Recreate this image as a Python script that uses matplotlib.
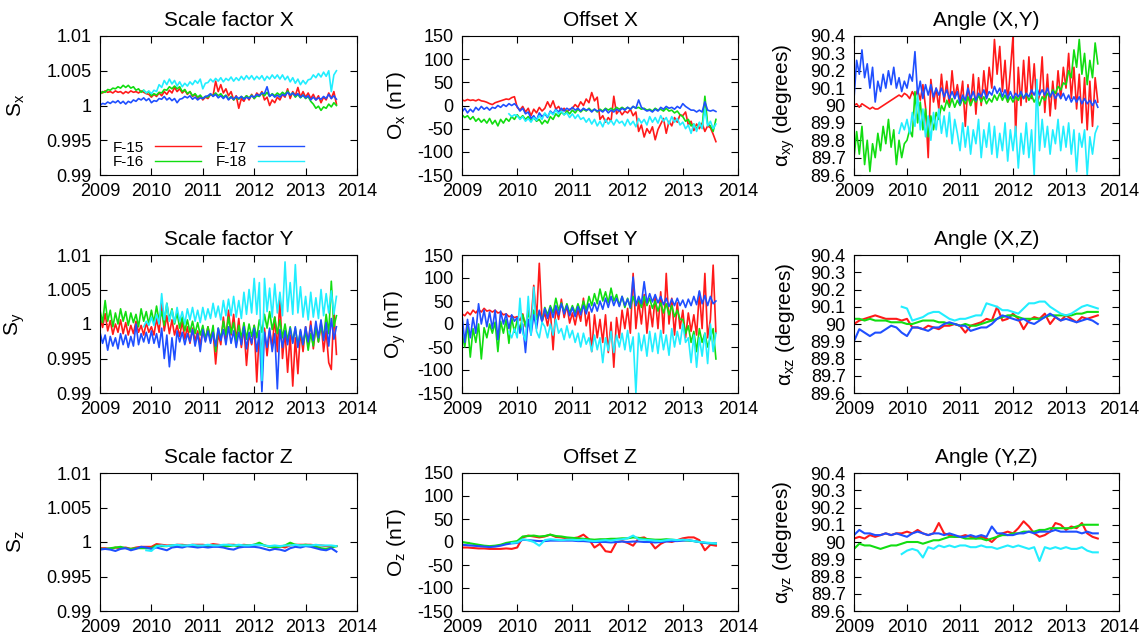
# Calibration parameters of the DMSP F-15..F-18 magnetometers, 2009-2013.
# Nine panels: scale factors, offsets and non-orthogonality angles.

import numpy as np
import matplotlib.pyplot as plt
from matplotlib.ticker import FuncFormatter

plt.rcParams["font.family"] = ["Liberation Sans", "DejaVu Sans"]
plt.rcParams["mathtext.fontset"] = "custom"
plt.rcParams["mathtext.rm"] = "Liberation Sans"
plt.rcParams["mathtext.default"] = "regular"

satellites = ["F-15", "F-16", "F-17", "F-18"]
colors = ["#ff1a1a", "#11dd11", "#1f4fff", "#22eeff"]

# sample times (decimal year); F-18 starts late 2009
t_fine = np.linspace(2009.0, 2013.6, 93)
t_fine_f18 = np.linspace(2009.85, 2013.6, 76)
t_coarse = np.linspace(2009.0, 2013.6, 47)
t_coarse_f18 = np.linspace(2009.9, 2013.6, 38)

# ---- Scale factor X ----
sx_f15 = [1.0020, 1.0018, 1.0021, 1.0019, 1.0020, 1.0018, 1.0021, 1.0019, 1.0020, 1.0017,
          1.0020, 1.0018, 1.0021, 1.0019, 1.0020, 1.0018, 1.0021, 1.0019, 1.0017, 1.0016,
          1.0012, 1.0016, 1.0013, 1.0018, 1.0014, 1.0020, 1.0016, 1.0022, 1.0018, 1.0026,
          1.0020, 1.0024, 1.0018, 1.0022, 1.0016, 1.0020, 1.0013, 1.0016, 1.0010, 1.0014,
          1.0008, 1.0012, 1.0010, 1.0016, 1.0014, 1.0035, 1.0020, 1.0030, 1.0018, 1.0024,
          1.0014, 1.0020, 1.0008, 1.0014, 0.9996, 1.0010, 1.0006, 1.0014, 1.0008, 1.0016,
          1.0010, 1.0018, 1.0014, 1.0020, 1.0008, 1.0012, 1.0000, 1.0008, 1.0004, 1.0012,
          1.0008, 1.0016, 1.0012, 1.0024, 1.0010, 1.0020, 1.0014, 1.0026, 1.0012, 1.0020,
          1.0012, 1.0018, 1.0010, 1.0016, 1.0008, 1.0014, 1.0004, 1.0012, 1.0008, 1.0018,
          1.0010, 1.0020, 1.0002]
sx_f16 = [1.0016, 1.0020, 1.0019, 1.0023, 1.0022, 1.0025, 1.0024, 1.0027, 1.0025, 1.0029,
          1.0026, 1.0029, 1.0025, 1.0027, 1.0022, 1.0024, 1.0019, 1.0022, 1.0018, 1.0020,
          1.0014, 1.0017, 1.0015, 1.0019, 1.0018, 1.0023, 1.0022, 1.0027, 1.0024, 1.0028,
          1.0024, 1.0027, 1.0020, 1.0023, 1.0017, 1.0020, 1.0014, 1.0017, 1.0012, 1.0015,
          1.0010, 1.0013, 1.0012, 1.0016, 1.0014, 1.0018, 1.0014, 1.0017, 1.0012, 1.0015,
          1.0009, 1.0013, 1.0008, 1.0012, 1.0009, 1.0013, 1.0010, 1.0014, 1.0011, 1.0015,
          1.0010, 1.0014, 1.0013, 1.0018, 1.0014, 1.0019, 1.0013, 1.0017, 1.0014, 1.0018,
          1.0015, 1.0019, 1.0016, 1.0021, 1.0015, 1.0018, 1.0012, 1.0016, 1.0011, 1.0015,
          1.0010, 1.0013, 1.0006, 1.0002, 0.9996, 0.9999, 0.9993, 0.9998, 0.9996, 1.0002,
          0.9998, 1.0004, 1.0000]
sx_f17 = [1.0000, 1.0003, 1.0002, 1.0005, 1.0003, 1.0006, 1.0004, 1.0007, 1.0003, 1.0006,
          1.0002, 1.0006, 1.0004, 1.0008, 1.0006, 1.0010, 1.0008, 1.0011, 1.0007, 1.0010,
          1.0004, 1.0007, 1.0006, 1.0010, 1.0009, 1.0013, 1.0008, 1.0011, 1.0007, 1.0010,
          1.0004, 1.0009, 1.0010, 1.0013, 1.0011, 1.0014, 1.0009, 1.0012, 1.0008, 1.0011,
          1.0010, 1.0013, 1.0014, 1.0017, 1.0013, 1.0016, 1.0011, 1.0014, 1.0010, 1.0014,
          1.0008, 1.0012, 1.0009, 1.0013, 1.0010, 1.0013, 1.0009, 1.0012, 1.0010, 1.0014,
          1.0012, 1.0016, 1.0014, 1.0018, 1.0017, 1.0027, 1.0013, 1.0016, 1.0012, 1.0015,
          1.0012, 1.0016, 1.0014, 1.0019, 1.0015, 1.0018, 1.0014, 1.0017, 1.0012, 1.0015,
          1.0011, 1.0014, 1.0008, 1.0012, 1.0008, 1.0011, 1.0009, 1.0013, 1.0010, 1.0016,
          1.0010, 1.0014, 1.0009]
sx_f18 = [1.0022, 1.0018, 1.0021,
          1.0017, 1.0022, 1.0020, 1.0030, 1.0026, 1.0036, 1.0030, 1.0038, 1.0031, 1.0036,
          1.0028, 1.0034, 1.0027, 1.0032, 1.0028, 1.0034, 1.0030, 1.0036, 1.0032, 1.0038,
          1.0024, 1.0032, 1.0033, 1.0038, 1.0034, 1.0039, 1.0035, 1.0040, 1.0034, 1.0039,
          1.0036, 1.0041, 1.0035, 1.0040, 1.0036, 1.0042, 1.0037, 1.0043, 1.0038, 1.0043,
          1.0037, 1.0042, 1.0038, 1.0043, 1.0036, 1.0042, 1.0038, 1.0044, 1.0039, 1.0044,
          1.0038, 1.0044, 1.0037, 1.0042, 1.0034, 1.0040, 1.0032, 1.0038, 1.0030, 1.0036,
          1.0031, 1.0037, 1.0038, 1.0044, 1.0040, 1.0046, 1.0041, 1.0048, 1.0042, 1.0050,
          1.0020, 1.0044, 1.0050]

# ---- Offset X (nT) ----
ox_f15 = [12, 10, 13, 11, 12, 10, 13, 10, 9, 7,
          4, 2, 6, 8, 10, 12, 14, 13, 17, 19,
          -4, -10, -2, -14, -6, -22, -8, -16, -4, -12,
          -6, 8, -4, 10, -8, -2, -12, -6, -14, -8,
          -6, 2, -4, 8, 0, 14, 6, 28, 10, 18,
          -30, -22, -36, -26, -34, 20, -18, -10, -20, -12,
          -16, -8, -22, -14, -56, -42, -68, -50, -60, -46,
          -74, -52, -40, -28, -60, -34, -44, -26, -36, -20,
          -22, -14, -42, -34, -54, -40, -50, -38, -56, -44,
          -48, -62, -78]
ox_f16 = [-20, -26, -22, -30, -24, -34, -28, -36, -30, -38,
          -28, -40, -32, -44, -30, -38, -28, -34, -24, -30,
          -20, -28, -22, -30, -24, -32, -26, -34, -30, -40,
          -32, -38, -24, -30, -18, -24, -14, -20, -12, -18,
          -10, -16, -8, -14, -8, -12, -6, -12, -8, -14,
          -8, -12, -6, -10, -6, -10, -4, -8, -4, -8,
          -4, -8, -2, -6, -4, -8, -6, -10, -8, -12,
          -6, -10, -8, -12, -6, -12, -10, -16, -12, -20,
          -24, -34, -30, -44, -40, -52, -38, -48, 20, -40,
          -44, -56, -30]
ox_f17 = [-14, -6, -16, -8, -14, -4, -10, -2, -8, -4,
          -10, -4, -6, 0, -4, 2, -2, 4, 0, 4,
          -2, -12, -6, -18, -14, -28, -22, -32, -16, -24,
          -18, -26, -12, -18, -8, -14, -6, -12, -6, -10,
          -4, -10, -6, -12, -6, -10, -8, -14, -8, -12,
          -10, -14, -8, -16, -10, -14, -8, -12, -6, -10,
          -4, -8, -2, -6, 12, -4, -8, -12, -10, -14,
          -8, -12, -4, -8, -2, -6, -4, -8, -2, -6,
          4, -2, -6, -10, -10, -14, -10, -14, 8, -10,
          -12, -10, -13]
ox_f18 = [-18, -24, -20,
          -22, -30, -24, -34, -28, -36, -26, -32, -22, -30,
          -16, -24, -14, -20, -10, -18, -12, -20, -16, -26,
          -18, -28, -20, -30, -26, -36, -28, -40, -30, -44,
          -34, -46, -30, -40, -32, -42, -30, -38, -34, -44,
          -30, -42, -34, -46, -28, -38, -30, -42, -24, -36,
          -26, -38, -22, -34, -26, -40, -24, -36, -28, -42,
          -36, -50, -42, -60, -40, -56, -36, -50, -8, -44,
          -34, -50, -40]

# ---- Angle (X,Y) (degrees) ----
axy_f15 = [90.00, 90.01, 89.99, 90.01, 90.00, 89.99, 89.98, 89.99, 89.98, 89.98,
           89.99, 90.00, 90.01, 90.02, 90.03, 90.04, 90.05, 90.06, 90.05, 90.07,
           90.06, 90.04, 90.08, 90.05, 90.09, 90.03, 90.12, 89.99, 89.70, 90.15,
           90.02, 90.10, 89.98, 90.18, 90.02, 90.14, 90.00, 90.20, 90.04, 90.12,
           90.02, 90.14, 89.88, 90.12, 90.00, 90.18, 89.95, 90.16, 90.00, 90.20,
           90.04, 90.22, 90.10, 90.38, 90.18, 90.34, 90.08, 90.26, 90.02, 90.20,
           90.40, 89.83, 90.22, 90.00, 90.26, 90.02, 90.28, 90.04, 90.24, 90.00,
           90.06, 90.28, 89.96, 90.18, 89.94, 90.14, 89.98, 90.20, 90.04, 90.22,
           90.10, 90.30, 90.04, 90.22, 89.98, 90.18, 89.90, 90.16, 89.86, 90.14,
           89.88, 90.16, 90.02]
axy_f16 = [89.70, 89.85, 89.72, 89.88, 89.66, 89.80, 89.62, 89.78, 89.70, 89.84,
           89.74, 89.88, 89.78, 89.92, 89.76, 89.86, 89.66, 89.80, 89.70, 89.78,
           89.80, 89.86, 89.82, 90.08, 89.90, 90.02, 89.86, 89.98, 89.82, 89.94,
           89.86, 89.96, 89.92, 90.00, 89.97, 90.03, 89.99, 90.04, 89.99, 90.03,
           90.00, 90.04, 90.01, 90.05, 90.00, 90.04, 90.02, 90.06, 90.02, 90.05,
           90.01, 90.04, 90.02, 90.06, 90.03, 90.07, 90.03, 90.06, 90.02, 90.05,
           90.02, 90.05, 90.03, 90.07, 90.04, 90.07, 90.03, 90.06, 90.02, 90.05,
           90.00, 90.05, 90.03, 90.07, 90.05, 90.09, 90.07, 90.11, 90.09, 90.13,
           90.12, 90.20, 90.16, 90.32, 90.22, 90.38, 90.18, 90.30, 90.12, 90.26,
           90.16, 90.36, 90.24]
axy_f17 = [90.04, 90.26, 90.18, 90.32, 90.16, 90.24, 90.10, 90.22, 90.02, 90.14,
           90.08, 90.18, 90.10, 90.20, 90.12, 90.22, 90.10, 90.16, 90.08, 90.14,
           90.10, 90.18, 90.14, 90.31, 90.06, 90.14, 90.04, 90.12, 90.06, 90.12,
           90.05, 90.10, 90.06, 90.10, 90.05, 90.09, 90.04, 90.08, 90.04, 90.08,
           90.01, 90.06, 90.03, 90.10, 90.04, 90.08, 90.03, 90.07, 90.05, 90.09,
           90.04, 90.08, 90.06, 90.11, 90.07, 90.10, 90.05, 90.09, 90.04, 90.08,
           90.04, 90.07, 90.05, 90.08, 90.04, 90.07, 90.05, 90.09, 90.06, 90.10,
           90.06, 90.09, 90.06, 90.10, 90.05, 90.08, 90.04, 90.07, 90.04, 90.07,
           90.03, 90.06, 90.02, 90.05, 90.02, 90.05, 90.01, 90.04, 90.01, 90.03,
           90.00, 90.03, 89.99]
axy_f18 = [89.84, 89.90, 89.86,
           89.92, 89.84, 89.96, 89.88, 90.06, 89.86, 89.98, 89.82, 89.94, 89.80,
           89.96, 89.86, 89.98, 89.84, 89.94, 89.82, 89.96, 89.78, 89.92, 89.84,
           89.74, 89.90, 89.76, 89.88, 89.72, 89.86, 89.78, 89.92, 89.70, 89.86,
           89.76, 89.90, 89.72, 89.88, 89.70, 89.84, 89.74, 89.90, 89.68, 89.86,
           89.74, 89.88, 89.64, 89.84, 89.72, 89.90, 89.70, 89.86, 89.60, 90.15,
           89.74, 89.92, 89.76, 89.88, 89.72, 89.86, 89.78, 89.92, 89.74, 89.88,
           89.76, 89.90, 89.72, 89.86, 89.62, 89.84, 89.76, 89.86, 89.60, 89.82,
           89.72, 89.84, 89.88]

# ---- Scale factor Y ----
sy_f15 = [1.0010, 0.9995, 1.0015, 0.9990, 1.0005, 0.9985, 1.0000, 0.9988, 1.0006, 0.9986,
          1.0002, 0.9984, 0.9998, 0.9986, 1.0004, 0.9988, 0.9998, 0.9984, 1.0002, 0.9988,
          0.9996, 0.9984, 1.0008, 0.9988, 1.0030, 0.9990, 1.0012, 0.9986, 1.0006, 0.9984,
          0.9998, 0.9982, 1.0004, 0.9978, 0.9996, 0.9972, 0.9994, 0.9976, 0.9990, 0.9970,
          0.9992, 0.9976, 0.9996, 0.9980, 0.9990, 0.9942, 0.9986, 0.9970, 1.0010, 0.9978,
          1.0020, 0.9984, 1.0014, 0.9976, 1.0008, 0.9966, 0.9996, 0.9940, 0.9986, 0.9970,
          0.9998, 0.9916, 0.9990, 0.9962, 0.9994, 0.9954, 0.9990, 0.9966, 1.0010, 0.9960,
          1.0038, 0.9950, 0.9990, 0.9930, 0.9984, 0.9910, 0.9980, 0.9928, 0.9990, 0.9960,
          0.9996, 0.9970, 1.0004, 0.9964, 0.9998, 0.9974, 1.0004, 0.9960, 0.9990, 0.9944,
          0.9934, 1.0020, 0.9956]
sy_f16 = [1.0020, 1.0002, 1.0034, 1.0004, 1.0020, 0.9996, 1.0016, 1.0000, 1.0022, 1.0004,
          1.0018, 0.9998, 1.0016, 1.0002, 1.0014, 0.9996, 1.0022, 1.0004, 1.0018, 1.0000,
          1.0020, 1.0002, 1.0026, 1.0004, 1.0018, 0.9998, 1.0030, 1.0006, 1.0022, 1.0000,
          1.0016, 0.9994, 1.0010, 0.9990, 1.0006, 0.9988, 1.0004, 0.9986, 1.0002, 0.9984,
          0.9998, 0.9978, 0.9996, 0.9976, 0.9998, 0.9960, 0.9994, 0.9978, 1.0004, 0.9984,
          1.0010, 0.9986, 1.0002, 0.9974, 0.9998, 0.9980, 1.0002, 0.9978, 1.0000, 0.9982,
          0.9998, 0.9980, 1.0006, 0.9988, 1.0014, 0.9994, 1.0018, 0.9992, 1.0010, 0.9986,
          1.0006, 0.9980, 1.0000, 0.9976, 0.9996, 0.9974, 0.9994, 0.9970, 0.9988, 0.9970,
          0.9990, 0.9962, 0.9986, 0.9968, 0.9996, 0.9974, 1.0000, 0.9980, 1.0014, 0.9986,
          1.0062, 0.9996, 1.0012]
sy_f17 = [0.9988, 0.9972, 0.9984, 0.9962, 0.9982, 0.9968, 0.9980, 0.9964, 0.9986, 0.9970,
          0.9984, 0.9966, 0.9982, 0.9968, 1.0000, 0.9970, 0.9986, 0.9974, 0.9988, 0.9972,
          0.9990, 0.9972, 0.9986, 0.9966, 0.9994, 0.9950, 0.9984, 0.9938, 0.9980, 0.9948,
          0.9990, 0.9974, 0.9988, 0.9970, 0.9986, 0.9974, 0.9992, 0.9968, 0.9986, 0.9960,
          0.9992, 0.9974, 0.9990, 0.9972, 0.9988, 0.9968, 0.9994, 0.9976, 0.9992, 0.9970,
          0.9996, 0.9972, 0.9990, 0.9966, 0.9988, 0.9970, 0.9996, 0.9964, 0.9988, 0.9972,
          0.9994, 0.9960, 0.9990, 0.9902, 0.9988, 0.9966, 0.9994, 0.9960, 0.9986, 0.9906,
          0.9992, 0.9966, 0.9990, 0.9970, 0.9994, 0.9972, 0.9996, 0.9966, 0.9992, 0.9970,
          0.9996, 0.9974, 0.9998, 0.9976, 1.0004, 0.9980, 1.0006, 0.9976, 1.0002, 0.9968,
          1.0008, 0.9978, 0.9996]
sy_f18 = [0.9996, 1.0004, 0.9998,
          1.0010, 0.9998, 1.0014, 1.0000, 1.0044, 1.0006, 1.0030, 1.0004, 1.0020, 1.0002,
          1.0024, 1.0004, 1.0018, 1.0000, 1.0022, 1.0006, 1.0024, 1.0004, 1.0020, 1.0002,
          1.0024, 1.0006, 1.0022, 1.0008, 1.0030, 1.0010, 1.0026, 1.0006, 1.0034, 1.0012,
          1.0036, 1.0012, 1.0040, 1.0010, 1.0034, 1.0008, 1.0046, 1.0014, 1.0050, 1.0016,
          1.0066, 1.0014, 1.0060, 0.9918, 1.0066, 1.0018, 1.0052, 1.0010, 1.0058, 1.0016,
          1.0046, 1.0012, 1.0090, 1.0018, 1.0060, 1.0014, 1.0086, 1.0016, 1.0054, 1.0010,
          1.0040, 1.0006, 1.0046, 1.0010, 1.0038, 1.0008, 1.0050, 1.0012, 1.0044, 1.0016,
          1.0048, 1.0014, 1.0040]

# ---- Offset Y (nT) ----
oy_f15 = [22, 18, 26, 20, 30, 24, 32, 26, 34, 28,
          30, 26, 30, 24, 26, 20, 22, 16, 18, 14,
          16, 8, 22, -6, 30, 4, 84, 10, 132, 6,
          24, -4, 30, -56, 36, 10, 54, 14, 40, 2,
          24, -2, 30, 6, 56, -4, 26, -60, 20, -30,
          10, -40, 20, -62, 4, -94, 14, -30, 30, -10,
          34, -20, 110, -10, 50, 0, 64, -20, 40, -6,
          60, -10, 70, -20, 110, 0, 56, -24, 46, -10,
          30, -30, 24, -16, 20, -24, 70, -10, 110, -30,
          10, 128, -20]
oy_f16 = [-20, -50, 0, -72, -10, -40, 0, -76, -8, -30,
          0, -20, 4, -60, 6, -20, 10, -42, 14, -18,
          8, -14, 20, -4, 24, 0, 30, 10, 28, 6,
          36, 20, 40, 24, 56, 30, 46, 26, 44, 24,
          40, 24, 44, 26, 50, 30, 60, 40, 66, 44,
          76, 50, 70, 46, 78, 50, 64, 40, 60, 36,
          56, 34, 60, 40, 54, 36, 60, 40, 56, 34,
          50, 28, 46, 24, 44, 20, 40, 16, 30, 10,
          10, -20, -4, -40, -16, -60, -10, -40, -20, -50,
          -30, -10, -76]
oy_f17 = [20, -40, 10, -30, 14, -20, 44, 0, 30, -6,
          26, -10, 30, -34, 28, 0, 22, -10, 20, 6,
          14, -20, 0, -62, 10, -24, 20, -10, 30, 4,
          34, 12, 36, 14, 40, 20, 44, 22, 40, 18,
          36, 16, 38, 20, 40, 22, 44, 26, 46, 28,
          50, 32, 56, 36, 60, 40, 56, 38, 60, 40,
          54, 36, 102, 40, 60, 44, 92, 46, 66, 48,
          64, 46, 60, 42, 56, 38, 54, 40, 56, 40,
          52, 36, 54, 40, 60, 42, 72, 44, 62, 40,
          60, 44, 50]
oy_f18 = [-16, -30, -10,
          -30, 56, -20, -36, 60, -24, 80, -16, -30, 4,
          -6, -30, 0, -24, 10, -20, -10, -34, -4, -30,
          -14, -40, -20, -50, -20, -44, -30, -60, -24, -56,
          -30, -84, -30, -58, -16, -62, -24, -50, -20, -56,
          -14, -60, -28, -150, -20, -58, -24, -70, -16, -60,
          -20, -64, -14, -56, -24, -68, -10, -50, -16, -44,
          0, -40, -30, -84, -24, -94, -30, -70, -20, -86,
          0, -60, -20]

# ---- Angle (X,Z) (degrees) ----
axz_f15 = [90.00, 90.02, 90.03, 90.04, 90.05, 90.04, 90.03, 90.03, 90.03, 90.02,
           90.03, 89.98, 89.98, 89.97, 89.99, 89.98, 89.97, 89.99, 89.99, 90.00,
           89.99, 89.95, 89.99, 90.00, 90.01, 90.03, 90.02, 90.10, 90.02, 90.03,
           90.06, 90.03, 89.97, 90.02, 90.04, 90.03, 90.06, 90.00, 90.04, 90.02,
           90.05, 90.03, 90.01, 90.04, 90.03, 90.04, 90.05]
axz_f16 = [90.03, 90.03, 90.02, 90.03, 90.02, 90.02, 90.02, 90.01, 90.01, 90.01,
           90.00, 90.00, 90.01, 90.02, 90.02, 90.02, 90.01, 90.01, 90.00, 90.00,
           89.99, 90.00, 89.99, 89.99, 90.00, 90.01, 90.02, 90.03, 90.04, 90.05,
           90.05, 90.04, 90.03, 90.03, 90.03, 90.03, 90.04, 90.05, 90.05, 90.05,
           90.05, 90.05, 90.06, 90.06, 90.07, 90.07, 90.07]
axz_f17 = [89.90, 89.97, 89.95, 89.93, 89.95, 89.95, 89.97, 89.99, 89.98, 89.95,
           89.93, 89.98, 89.98, 89.97, 89.96, 89.98, 89.98, 90.00, 90.01, 90.00,
           89.99, 89.99, 89.96, 89.97, 89.98, 89.98, 90.00, 90.03, 90.05, 90.04,
           90.03, 90.02, 90.03, 90.01, 90.00, 90.02, 90.04, 90.06, 90.04, 90.02,
           90.03, 90.02, 90.01, 90.02, 90.03, 90.02, 90.00]
axz_f18 = [90.10, 90.09,
           90.02, 90.03, 90.04, 90.06, 90.07, 90.07, 90.05, 90.03, 90.02,
           90.03, 90.03, 90.04, 90.05, 90.05, 90.12, 90.11, 90.10, 90.08, 90.08,
           90.07, 90.06, 90.09, 90.12, 90.12, 90.13, 90.13, 90.10, 90.08, 90.06,
           90.05, 90.06, 90.08, 90.10, 90.11, 90.10, 90.09]

# ---- Scale factor Z ----
sz_f15 = [0.9991, 0.9991, 0.9990, 0.9992, 0.9991, 0.9992, 0.9990, 0.9992, 0.9993, 0.9993,
          0.9993, 0.9997, 0.9996, 0.9995, 0.9995, 0.9996, 0.9996, 0.9995, 0.9996, 0.9996,
          0.9996, 0.9995, 0.9997, 0.9996, 0.9995, 0.9996, 0.9996, 0.9995, 0.9996, 0.9995,
          0.9996, 0.9997, 0.9995, 0.9993, 0.9992, 0.9994, 0.9992, 0.9995, 0.9996, 0.9996,
          0.9996, 0.9996, 0.9995, 0.9995, 0.9994, 0.9994, 0.9994]
sz_f16 = [0.9990, 0.9990, 0.9991, 0.9992, 0.9993, 0.9991, 0.9990, 0.9991, 0.9991, 0.9991,
          0.9991, 0.9995, 0.9994, 0.9994, 0.9995, 0.9994, 0.9995, 0.9994, 0.9994, 0.9994,
          0.9994, 0.9994, 0.9995, 0.9994, 0.9994, 0.9994, 0.9995, 0.9994, 0.9995, 0.9995,
          0.9996, 0.9999, 0.9995, 0.9993, 0.9992, 0.9993, 0.9995, 0.9999, 0.9996, 0.9995,
          0.9996, 0.9995, 0.9993, 0.9991, 0.9990, 0.9992, 0.9994]
sz_f17 = [0.9989, 0.9990, 0.9989, 0.9987, 0.9990, 0.9991, 0.9988, 0.9990, 0.9993, 0.9992,
          0.9990, 0.9992, 0.9990, 0.9988, 0.9992, 0.9993, 0.9992, 0.9994, 0.9993, 0.9992,
          0.9993, 0.9992, 0.9993, 0.9993, 0.9992, 0.9990, 0.9989, 0.9992, 0.9993, 0.9993,
          0.9993, 0.9992, 0.9990, 0.9988, 0.9990, 0.9989, 0.9987, 0.9991, 0.9993, 0.9992,
          0.9994, 0.9993, 0.9991, 0.9989, 0.9988, 0.9991, 0.9986]
sz_f18 = [0.9988, 0.9987,
          0.9994, 0.9995, 0.9994, 0.9995, 0.9996, 0.9995, 0.9995, 0.9996, 0.9995,
          0.9995, 0.9996, 0.9995, 0.9995, 0.9996, 0.9996, 0.9995, 0.9996, 0.9995, 0.9995,
          0.9996, 0.9996, 0.9995, 0.9994, 0.9995, 0.9994, 0.9995, 0.9995, 0.9996, 0.9995,
          0.9995, 0.9995, 0.9996, 0.9995, 0.9995, 0.9995, 0.9994]

# ---- Offset Z (nT) ----
oz_f15 = [-12, -12, -13, -14, -14, -15, -15, -15, -14, -15,
          -12, 10, 14, 12, 10, 12, 16, 11, 10, 8,
          8, 10, 16, 6, -12, -4, -20, -22, 0, 2,
          -2, -8, 8, 10, 2, -14, -4, 2, 0, 4,
          8, 10, 10, 4, -18, -6, -8]
oz_f16 = [0, -2, -4, -6, -8, -9, -8, -6, -2, 0,
          2, 12, 13, 14, 12, 13, 16, 13, 12, 10,
          9, 8, 7, 6, 5, 6, 6, 7, 7, 8,
          8, 10, 9, 7, 6, 5, 5, 6, 5, 4,
          4, 3, 2, 0, -2, -3, -4]
oz_f17 = [-6, -7, -8, -9, -10, -11, -10, -8, -5, -3,
          -2, 5, 4, 3, 2, 2, 3, 3, 3, 3,
          3, 2, 2, 1, 0, 0, 0, -1, 0, 1,
          0, 1, 1, 0, 0, -1, 0, 1, 2, 2,
          3, 4, 2, 0, -2, -3, -3]
oz_f18 = [-2, -1,
          6, 4, 0, -8, 4, 6, 5, 4, 5,
          5, 4, 5, 3, 2, 3, 4, 3, 5, 6,
          8, 14, 6, 5, 4, 3, 2, 4, 5, 4,
          5, 4, 2, 0, -1, -2, -3]

# ---- Angle (Y,Z) (degrees) ----
ayz_f15 = [90.02, 90.03, 90.02, 90.04, 90.03, 90.04, 90.05, 90.04, 90.05, 90.05,
           90.06, 90.05, 90.07, 90.05, 90.04, 90.05, 90.11, 90.05, 90.04, 90.03,
           90.03, 90.04, 90.03, 90.02, 90.03, 90.02, 90.00, 90.03, 90.05, 90.06,
           90.05, 90.08, 90.12, 90.09, 90.05, 90.03, 90.04, 90.06, 90.11, 90.10,
           90.07, 90.09, 90.08, 90.11, 90.05, 90.03, 90.02]
ayz_f16 = [89.96, 89.99, 89.98, 89.98, 89.97, 89.96, 89.97, 89.98, 89.98, 89.99,
           90.00, 90.00, 90.00, 89.99, 90.00, 90.01, 90.01, 90.02, 90.03, 90.03,
           90.03, 90.02, 90.02, 90.02, 90.02, 90.01, 90.02, 90.03, 90.04, 90.04,
           90.05, 90.05, 90.06, 90.06, 90.06, 90.07, 90.07, 90.08, 90.08, 90.08,
           90.08, 90.08, 90.09, 90.10, 90.10, 90.10, 90.10]
ayz_f17 = [90.04, 90.07, 90.05, 90.05, 90.04, 90.04, 90.05, 90.04, 90.05, 90.04,
           90.03, 90.05, 90.06, 90.05, 90.04, 90.05, 90.05, 90.04, 90.05, 90.04,
           90.03, 90.03, 90.04, 90.03, 90.04, 90.03, 90.09, 90.05, 90.05, 90.04,
           90.04, 90.05, 90.05, 90.06, 90.05, 90.06, 90.06, 90.06, 90.07, 90.06,
           90.06, 90.06, 90.06, 90.05, 90.06, 90.05, 90.05]
ayz_f18 = [89.93, 89.95,
           89.96, 89.95, 89.91, 89.97, 89.96, 89.98, 89.97, 89.98, 89.97,
           89.98, 89.98, 89.97, 89.97, 89.98, 89.97, 89.97, 89.96, 89.97, 89.98,
           89.97, 89.98, 89.97, 89.96, 89.97, 89.89, 89.97, 89.96, 89.97, 89.96,
           89.97, 89.96, 89.96, 89.97, 89.95, 89.94, 89.94]

scale_ticks = [0.99, 0.995, 1.0, 1.005, 1.01]
offset_ticks = [-150, -100, -50, 0, 50, 100, 150]
angle_ticks = [89.6, 89.7, 89.8, 89.9, 90.0, 90.1, 90.2, 90.3, 90.4]
year_ticks = [2009, 2010, 2011, 2012, 2013, 2014]

fine = (t_fine, t_fine_f18)
coarse = (t_coarse, t_coarse_f18)

# (title, ylabel, yticks, times, series) for each panel, row by row
panels = [
    ("Scale factor X", "S$_x$", scale_ticks, fine, [sx_f15, sx_f16, sx_f17, sx_f18]),
    ("Offset X", "O$_x$ (nT)", offset_ticks, fine, [ox_f15, ox_f16, ox_f17, ox_f18]),
    ("Angle (X,Y)", r"$\alpha_{xy}$ (degrees)", angle_ticks, fine, [axy_f15, axy_f16, axy_f17, axy_f18]),
    ("Scale factor Y", "S$_y$", scale_ticks, fine, [sy_f15, sy_f16, sy_f17, sy_f18]),
    ("Offset Y", "O$_y$ (nT)", offset_ticks, fine, [oy_f15, oy_f16, oy_f17, oy_f18]),
    ("Angle (X,Z)", r"$\alpha_{xz}$ (degrees)", angle_ticks, coarse, [axz_f15, axz_f16, axz_f17, axz_f18]),
    ("Scale factor Z", "S$_z$", scale_ticks, coarse, [sz_f15, sz_f16, sz_f17, sz_f18]),
    ("Offset Z", "O$_z$ (nT)", offset_ticks, coarse, [oz_f15, oz_f16, oz_f17, oz_f18]),
    ("Angle (Y,Z)", r"$\alpha_{yz}$ (degrees)", angle_ticks, coarse, [ayz_f15, ayz_f16, ayz_f17, ayz_f18]),
]

fig = plt.figure(figsize=(11.44, 6.38), dpi=100)

# axes boxes in pixels (left, right) per column, (top, bottom) per row
col_px = [(100, 357), (462, 738), (854, 1119)]
row_px = [(36, 175), (255, 393), (473, 611)]
label_x = [-0.284, -0.196, -0.215]

for i, (title, ylabel, yticks, times, series) in enumerate(panels):
    r, c = divmod(i, 3)
    x0, x1 = col_px[c]
    y0, y1 = row_px[r]
    ax = fig.add_axes([x0 / 1144, 1 - y1 / 638, (x1 - x0) / 1144, (y1 - y0) / 638])

    lw = 1.2 if times is fine else 1.5
    for k, (values, name, color) in enumerate(zip(series, satellites, colors)):
        t = times[1] if k == 3 else times[0]
        ax.plot(t, values, color=color, lw=lw, label=name)

    ax.set_xlim(2009, 2014)
    ax.set_ylim(yticks[0], yticks[-1])
    ax.set_xticks(year_ticks)
    ax.set_yticks(yticks)
    ax.yaxis.set_major_formatter(FuncFormatter(lambda v, p: "%g" % round(v, 4)))
    ax.tick_params(direction="in", top=True, right=True, length=5, width=0.8,
                   labelsize=13, pad=6)
    for s in ax.spines.values():
        s.set_linewidth(0.8)
    ax.set_title(title, fontsize=15, pad=7)
    ax.set_ylabel(ylabel, fontsize=15)
    ax.yaxis.set_label_coords(label_x[c], 0.5)

    if i == 0:
        leg = ax.legend(ncol=2, loc="lower left", bbox_to_anchor=(0.05, 0.04),
                        frameon=False, markerfirst=False, fontsize=11,
                        handlelength=3.0, handletextpad=0.7, columnspacing=1.0,
                        labelspacing=0.05, borderpad=0, borderaxespad=0)
        for h in leg.get_lines():
            h.set_linewidth(1.0)

fig.savefig("out.png", dpi=100)
